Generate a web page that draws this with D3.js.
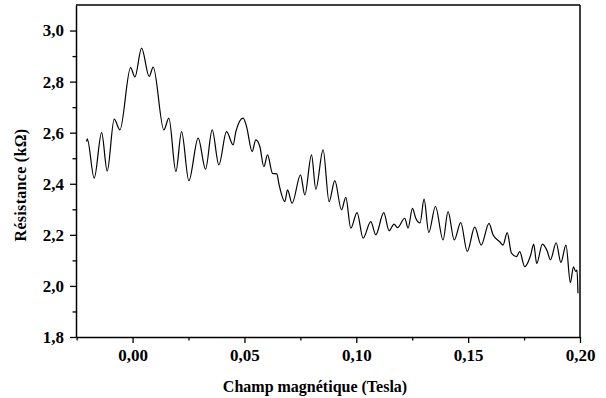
<!DOCTYPE html>
<html>
<head>
<meta charset="utf-8">
<script src="https://cdn.jsdelivr.net/npm/d3@7"></script>
<style>
  body { margin: 0; background: #fff; }
  svg text { font-family: "Liberation Serif", "Times New Roman", serif; font-weight: bold; fill: #000; }
  .axis path { stroke: #000; stroke-width: 1.5; }
  .axis line { stroke: #000; stroke-width: 1.3; }
</style>
</head>
<body>
<div id="chart"></div>
<script>
// magnetic field (Tesla) and resistance (kOhm)
const fieldTesla = [
  -0.02055, -0.02028, -0.01716, -0.01385, -0.01135, -0.00822, -0.00567, -0.00089, 0.00103, 0.00402,
  0.00742, 0.0092, 0.01398, 0.01622, 0.01935, 0.02189, 0.02515, 0.02931, 0.03262, 0.03557,
  0.03856, 0.042, 0.04495, 0.04615, 0.04942, 0.05094, 0.05344, 0.05509, 0.05688, 0.05867,
  0.06032, 0.06255, 0.06447, 0.0655, 0.06805, 0.06925, 0.07131, 0.07506, 0.07698, 0.07998,
  0.0819, 0.08516, 0.08784, 0.09039, 0.09338, 0.0953, 0.09754, 0.10035, 0.10303, 0.10647,
  0.10871, 0.11228, 0.11465, 0.11688, 0.1184, 0.12166, 0.12314, 0.1251, 0.12658, 0.1285,
  0.13029, 0.13239, 0.13538, 0.13878, 0.14101, 0.14378, 0.14669, 0.14959, 0.15294, 0.15584,
  0.15933, 0.16112, 0.16411, 0.16558, 0.16746, 0.16934, 0.17157, 0.17305, 0.17528, 0.17796,
  0.1793, 0.18064, 0.18319, 0.18533, 0.18676, 0.18935, 0.19145, 0.19373, 0.1957, 0.19708,
  0.19807, 0.19865, 0.1991
];
const resistanceKOhm = [
  2.565, 2.576, 2.422, 2.600, 2.450, 2.653, 2.611, 2.855, 2.818, 2.931,
  2.820, 2.857, 2.611, 2.657, 2.448, 2.604, 2.412, 2.579, 2.457, 2.611,
  2.474, 2.604, 2.552, 2.604, 2.657, 2.624, 2.526, 2.572, 2.546, 2.467,
  2.513, 2.441, 2.439, 2.396, 2.330, 2.376, 2.324, 2.435, 2.356, 2.513,
  2.379, 2.533, 2.330, 2.412, 2.298, 2.347, 2.226, 2.287, 2.187, 2.252,
  2.200, 2.287, 2.216, 2.242, 2.228, 2.265, 2.226, 2.304, 2.265, 2.247,
  2.340, 2.209, 2.311, 2.180, 2.291, 2.180, 2.248, 2.135, 2.230, 2.160,
  2.245, 2.200, 2.173, 2.160, 2.209, 2.129, 2.115, 2.134, 2.075, 2.121,
  2.164, 2.088, 2.164, 2.137, 2.102, 2.169, 2.092, 2.160, 2.013, 2.075,
  2.057, 2.062, 1.971
];

const xMajorTicks = [0, 0.05, 0.10, 0.15, 0.20];
const xMinorTicks = [-0.025, 0.025, 0.075, 0.125, 0.175];
const yMajorTicks = [1.8, 2.0, 2.2, 2.4, 2.6, 2.8, 3.0];
const yMinorTicks = [1.9, 2.1, 2.3, 2.5, 2.7, 2.9];

const xLabel = "Champ magnétique (Tesla)";
const yLabel = "Résistance (kΩ)";

const W = 606, H = 398;
const margin = {top: 5, right: 26, bottom: 61, left: 76};
const width = W - margin.left - margin.right;
const height = H - margin.top - margin.bottom;

const svg = d3.select("#chart").append("svg")
  .attr("width", W)
  .attr("height", H);

const chart = svg.append("g")
  .attr("transform", `translate(${margin.left},${margin.top})`);

const x = d3.scaleLinear().domain([-0.0253, 0.2]).range([0, width]);
const y = d3.scaleLinear().domain([1.8, 3.1]).range([height, 0]);

const comma = f => d => f(d).replace(".", ",");

// minor ticks first, majors on top
chart.append("g")
  .attr("class", "axis")
  .attr("transform", `translate(0,${height})`)
  .call(d3.axisBottom(x).tickValues(xMinorTicks).tickSize(3.5).tickFormat(""))
  .call(g => g.select(".domain").remove());

chart.append("g")
  .attr("class", "axis")
  .call(d3.axisLeft(y).tickValues(yMinorTicks).tickSize(3.5).tickFormat(""))
  .call(g => g.select(".domain").remove());

chart.append("g")
  .attr("class", "axis")
  .attr("transform", `translate(0,${height})`)
  .call(d3.axisBottom(x).tickValues(xMajorTicks).tickSize(6).tickSizeOuter(0).tickPadding(6)
    .tickFormat(comma(d3.format(".2f"))))
  .call(g => g.selectAll("text").style("font-size", "17px"));

chart.append("g")
  .attr("class", "axis")
  .call(d3.axisLeft(y).tickValues(yMajorTicks).tickSize(6).tickSizeOuter(0).tickPadding(6)
    .tickFormat(comma(d3.format(".1f"))))
  .call(g => g.selectAll("text").style("font-size", "17px"));

// top and right frame
chart.append("line")
  .attr("x1", 0).attr("x2", width).attr("y1", 0).attr("y2", 0)
  .attr("stroke", "#000").attr("stroke-width", 1.5);
chart.append("line")
  .attr("x1", width).attr("x2", width).attr("y1", 0).attr("y2", height)
  .attr("stroke", "#000").attr("stroke-width", 1.5);

// the curve
const points = fieldTesla.map((f, i) => [f, resistanceKOhm[i]]);
const line = d3.line()
  .x(d => x(d[0]))
  .y(d => y(d[1]))
  .curve(d3.curveMonotoneX);

chart.append("path")
  .datum(points)
  .attr("fill", "none")
  .attr("stroke", "#000")
  .attr("stroke-width", 1.2)
  .attr("d", line);

// axis titles
svg.append("text")
  .attr("x", 315)
  .attr("y", 392)
  .attr("text-anchor", "middle")
  .style("font-size", "16px")
  .text(xLabel);

svg.append("text")
  .attr("transform", "translate(26,185) rotate(-90)")
  .attr("text-anchor", "middle")
  .style("font-size", "16px")
  .style("letter-spacing", "0.3px")
  .text(yLabel);
</script>
</body>
</html>
